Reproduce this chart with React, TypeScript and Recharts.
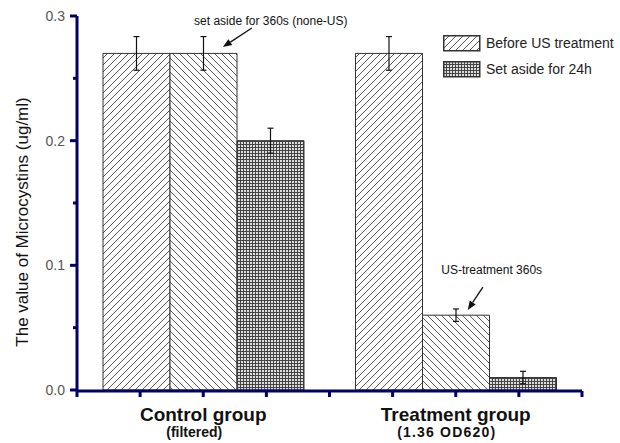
import React from 'react'
import {
  BarChart,
  Bar,
  XAxis,
  YAxis,
  ErrorBar,
  Legend,
  ReferenceLine,
  ReferenceDot,
} from 'recharts'

const groups = ['Control group', 'Treatment group']
const groupNotes = ['(filtered)', '(1.36 OD620)']

const beforeUS = [0.27, 0.27]
const beforeUSErr = [0.0135, 0.0135]
const afterShort = [0.27, 0.06] // 360s set aside / US-treatment 360s
const afterShortErr = [0.0135, 0.005]
const after24h = [0.2, 0.01]
const after24hErr = [0.01, 0.005]

const yTicks = [0, 0.05, 0.1, 0.15, 0.2, 0.25, 0.3]
const slotTicks = [0, 1, 2, 3, 4, 5, 6, 7, 8]

// arrows + notes, in data units of the 0..8 slot axis
const notes = [
  { text: 'set aside for 360s (none-US)', tx: 3.07, ty: 0.2965, x1: 2.77, y1: 0.2904, x2: 2.31, y2: 0.2751 },
  { text: 'US-treatment 360s', tx: 6.57, ty: 0.0963, x1: 6.43, y1: 0.0826, x2: 6.19, y2: 0.0642 },
]

const data = groups.map((g, i) => ({
  group: g,
  slot: i * 4 + 2,
  before: beforeUS[i],
  beforeErr: beforeUSErr[i],
  short: afterShort[i],
  shortErr: afterShortErr[i],
  day: after24h[i],
  dayErr: after24hErr[i],
}))

const font = 'Arial, "Liberation Sans", Helvetica, sans-serif'
const ink = '#000066'

function YTick(props: any) {
  const { x, y, payload } = props
  const major = Math.round(payload.value * 100) % 10 === 0
  return (
    <g>
      <path d={`M${x},${y}H${x - (major ? 7 : 4)}`} stroke={ink} strokeWidth={3} fill="none" />
      {major && (
        <text x={x - 12} y={y} dy={5} textAnchor="end" fontSize={14} fill="#555" fontFamily={font}>
          {payload.value.toFixed(1)}
        </text>
      )}
    </g>
  )
}

function GroupTick(props: any) {
  const { x, y, payload, index } = props
  return (
    <g fontFamily={font} fontWeight="bold" fill="#111">
      <text x={x} y={y + 31} textAnchor="middle" fontSize={19}>
        {payload.value}
      </text>
      <text x={x - 9} y={y + 47} textAnchor="middle" fontSize={14} letterSpacing={index === 1 ? 1.2 : 0}>
        {groupNotes[index]}
      </text>
    </g>
  )
}

function YLabel(props: any) {
  const vb = props.viewBox
  const cx = 22
  const cy = vb.y + vb.height / 2 + 19
  return (
    <text
      x={cx}
      y={cy}
      transform={`rotate(-90, ${cx}, ${cy})`}
      textAnchor="middle"
      dominantBaseline="central"
      fontSize={17}
      fill="#111"
      fontFamily={font}
    >
      The value of Microcystins (ug/ml)
    </text>
  )
}

function Arrow(props: any) {
  const { x1, y1, x2, y2 } = props
  const a = Math.atan2(y2 - y1, x2 - x1)
  const len = 9
  const w = 3.5
  const bx = x2 - len * Math.cos(a)
  const by = y2 - len * Math.sin(a)
  const px = -Math.sin(a) * w
  const py = Math.cos(a) * w
  return (
    <g>
      <path d={`M${x1},${y1}L${bx},${by}`} stroke="#111" strokeWidth={1.3} />
      <polygon points={`${x2},${y2} ${bx + px},${by + py} ${bx - px},${by - py}`} fill="#111" />
    </g>
  )
}

function LegendBox(props: any) {
  const items = (props.payload || []).filter((p: any) => p.type !== 'none')
  return (
    <div style={{ fontFamily: font, fontSize: 14, color: '#222' }}>
      {items.map((it: any) => (
        <div key={it.value} style={{ display: 'flex', alignItems: 'center', height: 26 }}>
          <svg width={38} height={17} style={{ marginRight: 5 }}>
            <rect x={0.75} y={0.75} width={36} height={15} fill={it.color} stroke="#333" strokeWidth={1.5} />
          </svg>
          <span>{it.value}</span>
        </div>
      ))}
    </div>
  )
}

export default function App() {
  return (
    <div style={{ position: 'absolute', left: 0, top: 0, width: 620, height: 443, background: '#fff' }}>
      <BarChart
        width={620}
        height={443}
        data={data}
        margin={{ top: 16, right: 38, bottom: 51, left: 0 }}
        barCategoryGap={26}
        barGap={0}
      >
        <defs>
          <pattern id="hatchFwd" patternUnits="userSpaceOnUse" width={7} height={7}>
            <rect width={7} height={7} fill="#fff" />
            <path d="M-1,1 l2,-2 M0,7 l7,-7 M6,8 l2,-2" stroke="#444" strokeWidth={0.9} />
          </pattern>
          <pattern id="hatchBack" patternUnits="userSpaceOnUse" width={7} height={7}>
            <rect width={7} height={7} fill="#fff" />
            <path d="M-1,6 l2,2 M0,0 l7,7 M6,-1 l2,2" stroke="#444" strokeWidth={0.9} />
          </pattern>
          <pattern id="crossFill" patternUnits="userSpaceOnUse" width={3} height={3}>
            <rect width={3} height={3} fill="#ddd" />
            <path d="M0,0.5 H3 M0.5,0 V3" stroke="#444" strokeWidth={1} />
          </pattern>
        </defs>
        <XAxis
          xAxisId="slots"
          dataKey="slot"
          type="number"
          domain={[0, 8]}
          allowDataOverflow
          ticks={slotTicks}
          interval={0}
          height={1}
          stroke={ink}
          strokeWidth={3}
          tickSize={6}
          tick={() => <g />}
        />
        <XAxis
          xAxisId="cat"
          dataKey="group"
          height={1}
          axisLine={false}
          tickLine={false}
          tickSize={0}
          tickMargin={0}
          interval={0}
          tick={<GroupTick />}
        />
        <YAxis
          width={77}
          domain={[0, 0.3]}
          ticks={yTicks}
          interval={0}
          tickSize={0}
          tickMargin={0}
          tickLine={false}
          stroke={ink}
          strokeWidth={3}
          tick={<YTick />}
          label={<YLabel />}
        />
        <Legend
          layout="horizontal"
          verticalAlign="middle"
          align="center"
          content={<LegendBox />}
          wrapperStyle={{ position: 'absolute', left: 443, top: 30, width: 177 }}
        />
        <Bar xAxisId="cat" dataKey="before" name="Before US treatment" fill="url(#hatchFwd)" stroke="#333" strokeWidth={1} isAnimationActive={false}>
          <ErrorBar dataKey="beforeErr" width={3} stroke="#111" strokeWidth={1.2} />
        </Bar>
        <Bar xAxisId="cat" dataKey="short" name="Set aside / US 360s" legendType="none" fill="url(#hatchBack)" stroke="#333" strokeWidth={1} isAnimationActive={false}>
          <ErrorBar dataKey="shortErr" width={3} stroke="#111" strokeWidth={1.2} />
        </Bar>
        <Bar xAxisId="cat" dataKey="day" name="Set aside for 24h" fill="url(#crossFill)" stroke="#333" strokeWidth={1} isAnimationActive={false}>
          <ErrorBar dataKey="dayErr" width={3} stroke="#111" strokeWidth={1.2} />
        </Bar>
        {notes.map((n) => (
          <ReferenceLine
            key={n.text + 'a'}
            xAxisId="slots"
            segment={[{ x: n.x1, y: n.y1 }, { x: n.x2, y: n.y2 }]}
            shape={<Arrow />}
          />
        ))}
        {notes.map((n) => (
          <ReferenceDot
            key={n.text}
            xAxisId="slots"
            x={n.tx}
            y={n.ty}
            r={0}
            fill="none"
            stroke="none"
            label={{ value: n.text, position: 'center', fontSize: 12, fill: '#111', fontFamily: font }}
          />
        ))}
      </BarChart>
    </div>
  )
}
